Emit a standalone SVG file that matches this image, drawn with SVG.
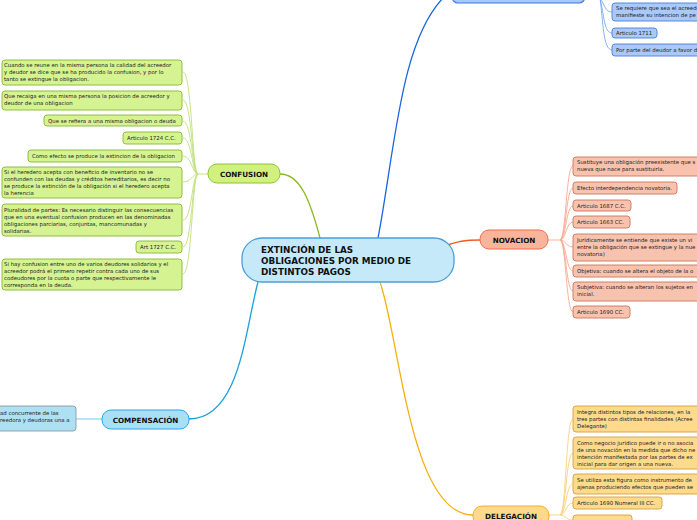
<svg xmlns="http://www.w3.org/2000/svg" width="697" height="520" viewBox="0 0 697 520">
<style>
.t{font-family:"DejaVu Sans",Verdana,sans-serif;font-size:5.4px;fill:#222}
.n{font-family:"DejaVu Sans",Verdana,sans-serif;font-size:7.2px;font-weight:bold;fill:#111;text-anchor:middle}
.c{font-family:"DejaVu Sans",Verdana,sans-serif;font-size:8.8px;font-weight:bold;fill:#111}
.g{fill:#d6f392;stroke:#86b833;stroke-width:0.9}
.s{fill:#f9c2ae;stroke:#c8785e;stroke-width:0.9}
.y{fill:#fdda8c;stroke:#d4a040;stroke-width:0.9}
.b{fill:#a9c9f8;stroke:#4a80d8;stroke-width:0.9}
.lg{fill:none;stroke:#bfe07a;stroke-width:0.9}
.ls{fill:none;stroke:#f8a890;stroke-width:0.9}
.ly{fill:none;stroke:#fbd078;stroke-width:0.9}
.lb{fill:none;stroke:#7aa8f0;stroke-width:0.9}
</style>
<rect width="697" height="520" fill="#fff"/>
<g id="connectors">
<path d="M378,238 C395,150 400,40 445,-4" fill="none" stroke="#1a66e0" stroke-width="1.3"/>
<path d="M320,238 C310,200 300,174 280,174" fill="none" stroke="#88b81c" stroke-width="1.3"/>
<path d="M442,247 C458,241 465,240 480,240" fill="none" stroke="#f05a28" stroke-width="1.3"/>
<path d="M258,282 C245,330 240,419 189,419" fill="none" stroke="#18a0e0" stroke-width="1.3"/>
<path d="M380,282 C400,340 410,515 473,515" fill="none" stroke="#f5b010" stroke-width="1.3"/>
<path class="lb" d="M600,-2 C605,5 605,12 612,12"/>
<path class="lb" d="M600,-2 C604,15 604,33 612,33"/>
<path class="lb" d="M600,-2 C603,20 603,50 612,50"/>
<path class="lg" d="M208,174 L198,174"/>
<path class="lg" d="M198,174 C192,174 192,72 183,72"/>
<path class="lg" d="M198,174 C192,174 192,100 183,100"/>
<path class="lg" d="M198,174 C192,174 192,121 183,121"/>
<path class="lg" d="M198,174 C192,174 192,138 183,138"/>
<path class="lg" d="M198,174 C192,174 192,156 183,156"/>
<path class="lg" d="M198,174 C192,174 192,182 183,182"/>
<path class="lg" d="M198,174 C192,174 192,220 183,220"/>
<path class="lg" d="M198,174 C192,174 192,247 183,247"/>
<path class="lg" d="M198,174 C192,174 192,274 183,274"/>
<path class="ls" d="M548,240 L560,240"/>
<path class="ls" d="M560,240 C566,240 566,166 573,166"/>
<path class="ls" d="M560,240 C566,240 566,188 573,188"/>
<path class="ls" d="M560,240 C566,240 566,206 573,206"/>
<path class="ls" d="M560,240 C566,240 566,222 573,222"/>
<path class="ls" d="M560,240 C566,240 566,247 573,247"/>
<path class="ls" d="M560,240 C566,240 566,271 573,271"/>
<path class="ls" d="M560,240 C566,240 566,291 573,291"/>
<path class="ls" d="M560,240 C566,240 566,312 573,312"/>
<path d="M102,419 L76,419" fill="none" stroke="#a8dcf4" stroke-width="1.5"/>
<path class="ly" d="M549,515 L560,515"/>
<path class="ly" d="M560,515 C566,515 566,419 573,419"/>
<path class="ly" d="M560,515 C566,515 566,453 573,453"/>
<path class="ly" d="M560,515 C566,515 566,484 573,484"/>
<path class="ly" d="M560,515 C566,515 566,503 573,503"/>
<path class="ly" d="M560,515 C566,515 566,520 573,520"/>
</g>
<g id="center">
<rect x="242" y="238" width="212" height="44" rx="20" fill="#c6e9fa" stroke="#4a9fd8" stroke-width="1.3"/>
<text class="c" x="261" y="252.5">EXTINCIÓN DE LAS</text>
<text class="c" x="261" y="263.5">OBLIGACIONES POR MEDIO DE</text>
<text class="c" x="261" y="274.5">DISTINTOS PAGOS</text>
</g>
<g id="top-node">
<rect x="452" y="-20" width="133" height="23" rx="6" fill="#a9c9f8" stroke="#3a78d8" stroke-width="1.1"/>
</g>
<g id="b1"><rect class="b" x="612" y="3" width="95" height="18" rx="3"/>
<text class="t" x="616" y="10">Se requiere que sea el acreedor</text><text class="t" x="616" y="17">manifieste su intencion de pe</text></g>
<g id="b2"><rect class="b" x="612" y="28" width="45" height="10" rx="3"/><text class="t" x="616" y="35">Articulo 1711</text></g>
<g id="b3"><rect class="b" x="612" y="44" width="95" height="12" rx="3"/><text class="t" x="616" y="52">Por parte del deudor a favor d</text></g>
<g id="confusion">
<rect x="208" y="164" width="72" height="19" rx="9" fill="#d2f07e" stroke="#8ac43a" stroke-width="1"/>
<text class="n" x="244" y="176.5">CONFUSION</text>
</g>
<g id="g1"><rect class="g" x="2" y="60" width="180" height="25" rx="3"/>
<text class="t" x="4" y="67">Cuando se reune en la misma persona la calidad del acreedor</text>
<text class="t" x="4" y="74">y deudor se dice que se ha producido la confusion, y por lo</text>
<text class="t" x="4" y="81">tanto se extingue la obligacion.</text></g>
<g id="g2"><rect class="g" x="2" y="91" width="180" height="19" rx="3"/>
<text class="t" x="4" y="98">Que recaiga en una misma persona la posicion de acreedor y</text>
<text class="t" x="4" y="105">deudor de una obligacion</text></g>
<g id="g3"><rect class="g" x="44" y="115" width="138" height="11" rx="3"/>
<text class="t" x="48" y="122.5">Que se refiera a una misma obligacion o deuda</text></g>
<g id="g4"><rect class="g" x="123" y="132" width="59" height="12" rx="3"/>
<text class="t" x="127" y="140">Articulo 1724 C.C.</text></g>
<g id="g5"><rect class="g" x="28" y="150" width="154" height="12" rx="3"/>
<text class="t" x="32" y="158">Como efecto se produce la extincion de la obligacion</text></g>
<g id="g6"><rect class="g" x="2" y="167" width="180" height="31" rx="3"/>
<text class="t" x="4" y="174">Si el heredero acepta con beneficio de inventario no se</text>
<text class="t" x="4" y="181">confunden con las deudas y créditos hereditarios, es decir no</text>
<text class="t" x="4" y="188">se produce la extinción de la obligación si el heredero acepta</text>
<text class="t" x="4" y="195">la herencia</text></g>
<g id="g7"><rect class="g" x="2" y="204" width="180" height="32" rx="3"/>
<text class="t" x="4" y="212">Pluralidad de partes: Es necesario distinguir las consecuencias</text>
<text class="t" x="4" y="219">que en una eventual confusion producen en las denominadas</text>
<text class="t" x="4" y="226">obligaciones parciarias, conjuntas, mancomunadas y</text>
<text class="t" x="4" y="233">solidarias.</text></g>
<g id="g8"><rect class="g" x="136" y="241" width="46" height="12" rx="3"/>
<text class="t" x="140" y="249">Art 1727 C.C.</text></g>
<g id="g9"><rect class="g" x="2" y="259" width="180" height="31" rx="3"/>
<text class="t" x="4" y="266">Si hay confusion entre uno de varios deudores solidarios y el</text>
<text class="t" x="4" y="273">acreedor podrá el primero repetir contra cada uno de sus</text>
<text class="t" x="4" y="280">codeudores por la cuota o parte que respectivamente le</text>
<text class="t" x="4" y="287">corresponda en la deuda.</text></g>
<g id="novacion">
<rect x="480" y="230" width="68" height="19" rx="9" fill="#f9b49c" stroke="#ee6e4c" stroke-width="1"/>
<text class="n" x="514" y="242.5">NOVACION</text>
</g>
<g id="s1"><rect class="s" x="573" y="157" width="134" height="19" rx="3"/>
<text class="t" x="577" y="164">Sustituye una obligación preexistente que s</text>
<text class="t" x="577" y="171">nueva que nace para sustituirla.</text></g>
<g id="s2"><rect class="s" x="573" y="182" width="104" height="12" rx="3"/>
<text class="t" x="577" y="190">Efecto interdependencia novatoria.</text></g>
<g id="s3"><rect class="s" x="573" y="200" width="58" height="11" rx="3"/>
<text class="t" x="577" y="207.5">Articulo 1687 C.C.</text></g>
<g id="s4"><rect class="s" x="573" y="216" width="57" height="12" rx="3"/>
<text class="t" x="577" y="224">Articulo 1663 CC.</text></g>
<g id="s5"><rect class="s" x="573" y="234" width="134" height="27" rx="3"/>
<text class="t" x="577" y="242">Jurídicamente se entiende que existe un vi</text>
<text class="t" x="577" y="249">entre la obligación que se extingue y la nue</text>
<text class="t" x="577" y="256">novatoria)</text></g>
<g id="s6"><rect class="s" x="573" y="265" width="134" height="12" rx="3"/>
<text class="t" x="577" y="273">Objetiva: cuando se altera el objeto de la o</text></g>
<g id="s7"><rect class="s" x="573" y="282" width="134" height="19" rx="3"/>
<text class="t" x="577" y="289">Subjetiva: cuando se alteran los sujetos en</text>
<text class="t" x="577" y="296">inicial.</text></g>
<g id="s8"><rect class="s" x="573" y="306" width="57" height="12" rx="3"/>
<text class="t" x="577" y="314">Articulo 1690 CC.</text></g>
<g id="compensacion">
<rect x="102" y="410" width="87" height="19" rx="9" fill="#a8e0f8" stroke="#2aa6e0" stroke-width="1"/>
<text class="n" x="145.5" y="422.5">COMPENSACIÓN</text>
</g>
<g id="c1"><rect x="-10" y="406" width="86" height="25" rx="3" fill="#aee0f4" stroke="#8a9aa0" stroke-width="0.9"/>
<text class="t" x="0" y="415">ad concurrente de las</text>
<text class="t" x="0" y="422">reedora y deudoras una a</text></g>
<g id="delegacion">
<rect x="473" y="506" width="76" height="20" rx="9" fill="#ffd98a" stroke="#f0b030" stroke-width="1"/>
<text class="n" x="511" y="518.5">DELEGACIÓN</text>
</g>
<g id="y1"><rect class="y" x="573" y="406" width="134" height="26" rx="3"/>
<text class="t" x="577" y="414">Integra distintos tipos de relaciones, en la</text>
<text class="t" x="577" y="421">tres partes con distintas finalidades (Acree</text>
<text class="t" x="577" y="428">Delegante)</text></g>
<g id="y2"><rect class="y" x="573" y="437" width="134" height="32" rx="3"/>
<text class="t" x="577" y="445">Como negocio jurídico puede ir o no asocia</text>
<text class="t" x="577" y="452">de una novación en la medida que dicho ne</text>
<text class="t" x="577" y="459">intención manifestada por las partes de ex</text>
<text class="t" x="577" y="466">inicial para dar origen a una nueva.</text></g>
<g id="y3"><rect class="y" x="573" y="474" width="134" height="20" rx="3"/>
<text class="t" x="577" y="482">Se utiliza esta figura como instrumento de</text>
<text class="t" x="577" y="489">ajenas produciendo efectos que pueden se</text></g>
<g id="y4"><rect class="y" x="573" y="497" width="89" height="12" rx="3"/>
<text class="t" x="577" y="505">Articulo 1690 Numeral III CC.</text></g>
<g id="y5"><rect class="y" x="573" y="515" width="59" height="12" rx="3"/></g>
</svg>
